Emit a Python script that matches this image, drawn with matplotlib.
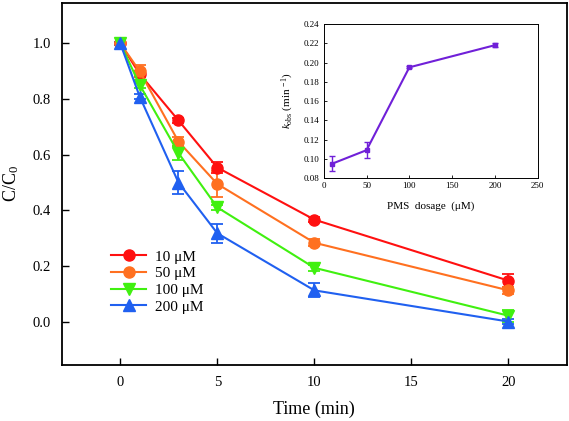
import matplotlib
matplotlib.use("Agg")
from matplotlib import pyplot as plt
from matplotlib.lines import Line2D

plt.rcParams["font.family"] = ["Liberation Serif", "DejaVu Serif"]
plt.rcParams["mathtext.fontset"] = "custom"
plt.rcParams["mathtext.rm"] = "Liberation Serif"
plt.rcParams["mathtext.it"] = "Liberation Serif:italic"

time = [0, 1, 3, 5, 10, 20]
labels = ["10 \u03bcM", "50 \u03bcM", "100 \u03bcM", "200 \u03bcM"]
c_10 = [1.0, 0.89, 0.723, 0.554, 0.367, 0.148]
c_50 = [1.0, 0.90, 0.647, 0.495, 0.284, 0.113]
c_100 = [1.0, 0.851, 0.606, 0.411, 0.194, 0.022]
c_200 = [1.0, 0.809, 0.50, 0.318, 0.113, 0.001]
err_10 = [0.005, 0.01, 0.01, 0.02, 0.01, 0.022]
err_50 = [0.005, 0.022, 0.015, 0.045, 0.012, 0.012]
err_100 = [0.005, 0.01, 0.025, 0.01, 0.01, 0.022]
err_200 = [0.005, 0.01, 0.04, 0.035, 0.025, 0.008]

dosage = [10, 50, 100, 200]
k_obs = [0.095, 0.109, 0.195, 0.218]
k_err = [0.008, 0.008, 0.001, 0.002]

series = [c_10, c_50, c_100, c_200]
errors = [err_10, err_50, err_100, err_200]
colors = ["#ff1010", "#ff7020", "#40f010", "#2060f0"]
markers = ["o", "o", "v", "^"]

fig = plt.figure(figsize=(5.69, 4.21), dpi=100)
ax = fig.add_axes([0.109, 0.133, 0.887, 0.860])

handles = []
for y, e, col, m, lab in zip(series, errors, colors, markers, labels):
    ax.errorbar(time, y, yerr=e, color=col, marker=m, markersize=8,
                linewidth=1.5, capsize=4, elinewidth=1.3, capthick=1.3)
    handles.append(Line2D([], [], color=col, marker=m, markersize=8,
                          linewidth=1.5, label=lab))

ax.set_xlim(-3, 23)
ax.set_ylim(-0.155, 1.145)
ax.set_xticks([0, 5, 10, 15, 20])
ax.set_yticks([0.0, 0.2, 0.4, 0.6, 0.8, 1.0])
ax.set_yticklabels(["0.0", "0.2", "0.4", "0.6", "0.8", "1.0"])
ax.tick_params(direction="in", labelsize=10.5, length=5, width=1, pad=8)
for sp in ax.spines.values():
    sp.set_linewidth(1.3)
ax.set_xlabel("Time (min)", fontsize=13, labelpad=8)
ax.set_ylabel("C/C$_0$", fontsize=13, labelpad=8)

ax.legend(handles=handles, loc="upper left", bbox_to_anchor=(0.085, 0.335),
          frameon=False, fontsize=11, handlelength=2.3, handletextpad=0.6,
          labelspacing=0.2, borderaxespad=0)

# inset: rate constant vs PMS dosage
ins = fig.add_axes([0.569, 0.577, 0.376, 0.366])
ins.errorbar(dosage, k_obs, yerr=k_err, color="#7020d8", marker="s",
             markersize=3.5, linewidth=1.5, capsize=2.5, elinewidth=1,
             capthick=1)
ins.set_xlim(0, 250)
ins.set_ylim(0.08, 0.24)
ins.set_xticks([0, 50, 100, 150, 200, 250])
ins.set_yticks([0.08, 0.10, 0.12, 0.14, 0.16, 0.18, 0.20, 0.22, 0.24])
ins.set_yticklabels(["0.08", "0.10", "0.12", "0.14", "0.16", "0.18",
                     "0.20", "0.22", "0.24"])
ins.tick_params(direction="in", labelsize=6.5, length=2, width=0.6, pad=3)
for sp in ins.spines.values():
    sp.set_linewidth(0.7)
ins.set_xlabel("PMS  dosage  (\u03bcM)", fontsize=8, labelpad=8)
ins.set_ylabel("$k_{\\mathrm{obs}}$ (min $^{-1}$)", fontsize=8, labelpad=6)

fig.savefig("out.png", dpi=100)
